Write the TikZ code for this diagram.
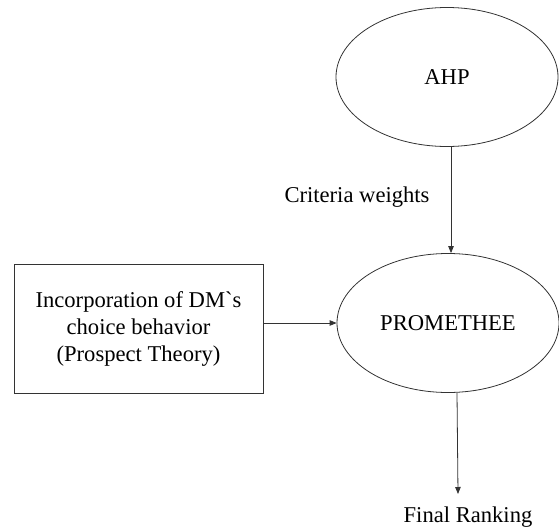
\documentclass[tikz,border=0pt]{standalone}
\usepackage{fontspec}
\setmainfont{Liberation Serif}
\usetikzlibrary{shapes.geometric,arrows.meta}
\begin{document}
\begin{tikzpicture}[x=1pt,y=-1pt,
  every node/.style={font=\fontsize{22.6}{27}\selectfont, text=black},
  oval/.style={ellipse, draw=black!80, line width=0.8pt, minimum width=222pt, minimum height=139pt, inner sep=0pt},
  box/.style={rectangle, draw=black!80, line width=0.8pt, minimum width=249pt, minimum height=129pt, align=center},
  link/.style={draw=black!80, line width=0.8pt, -{Triangle[length=7pt,width=5.5pt]}},
  lbl/.style={inner sep=0pt}]
  \useasboundingbox (0,0) rectangle (559,530);
  % method blocks
  \node[oval] (ahp) at (447,77) {AHP};
  \node[oval] (prom) at (448,323) {PROMETHEE};
  \node[box] (pt) at (138.5,328.5) {Incorporation of DM\textasciigrave s\\ choice behavior\\ (Prospect Theory)};
  % labels
  \node[lbl] (cw) at (357,197) {Criteria weights};
  \node[lbl] (fr) at (468,517) {Final Ranking};
  \coordinate (frtop) at (458,494);
  % connectors
  \draw[link] ([xshift=4pt]ahp.south) -- ([xshift=3pt]prom.north);
  \draw[link] (pt.east |- prom.west) -- (prom.west);
  \draw[link] ([xshift=9pt]prom.south) -- (frtop);
\end{tikzpicture}
\end{document}
